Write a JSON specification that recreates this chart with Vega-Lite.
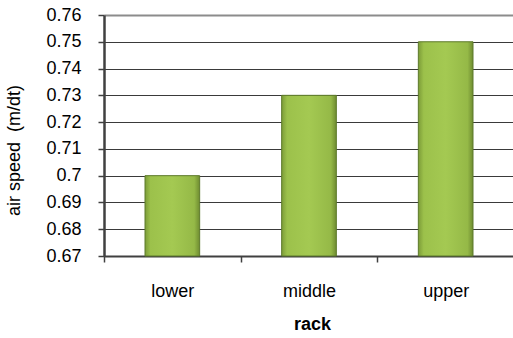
{
  "$schema": "https://vega.github.io/schema/vega-lite/v6.json",
  "width": 410,
  "height": 241,
  "autosize": "none",
  "padding": {"left": 104, "top": 15, "right": 0, "bottom": 82},
  "background": "white",
  "config": {
    "view": {"stroke": null},
    "font": "Liberation Sans",
    "axis": {"labelFont": "Liberation Sans", "titleFont": "Liberation Sans", "labelColor": "#000", "titleColor": "#000"}
  },
  "data": {"values": [
    {"rack": "lower", "speed": 0.70},
    {"rack": "middle", "speed": 0.73},
    {"rack": "upper", "speed": 0.75}
  ]},
  "mark": {
    "type": "bar",
    "width": {"band": 0.4},
    "stroke": "#5d7a2a",
    "strokeWidth": 1,
    "color": {
      "gradient": "linear", "x1": 0, "x2": 1, "y1": 0, "y2": 0,
      "stops": [
        {"offset": 0, "color": "#7c9c38"},
        {"offset": 0.1, "color": "#9cc14b"},
        {"offset": 0.5, "color": "#a4c952"},
        {"offset": 0.9, "color": "#95b947"},
        {"offset": 1, "color": "#6f8c31"}
      ]
    }
  },
  "encoding": {
    "x": {
      "field": "rack", "type": "nominal", "sort": null,
      "scale": {"paddingInner": 0, "paddingOuter": 0},
      "axis": {
        "title": "rack", "titleFontSize": 18, "titleFontWeight": "bold", "titlePadding": 15, "titleX": 208,
        "labelAngle": 0, "labelFontSize": 18, "labelPadding": 20,
        "tickBand": "extent", "tickSize": 6, "tickColor": "#404040", "tickWidth": 1.5,
        "domainColor": "#404040", "domainWidth": 2, "grid": false
      }
    },
    "y": {
      "field": "speed", "type": "quantitative",
      "scale": {"domain": [0.67, 0.76], "zero": false, "nice": false},
      "axis": {
        "title": "air speed\u00a0 (m/dt)", "titleFontSize": 18, "titleFontWeight": "normal",
        "titleX": -81, "titleY": 135,
        "values": [0.67, 0.68, 0.69, 0.70, 0.71, 0.72, 0.73, 0.74, 0.75, 0.76],
        "format": "~g",
        "labelFontSize": 18, "labelPadding": 17,
        "tickSize": 6, "tickColor": "#404040", "tickWidth": 1.5,
        "domainColor": "#404040", "domainWidth": 2.5,
        "grid": true,
        "gridColor": {"condition": {"test": "datum.value >= 0.759", "value": "#8c8c8c"}, "value": "#3a3a3a"},
        "gridWidth": {"condition": {"test": "datum.value >= 0.759", "value": 2}, "value": 1.2}
      }
    },
    "y2": {"datum": 0.67}
  }
}
